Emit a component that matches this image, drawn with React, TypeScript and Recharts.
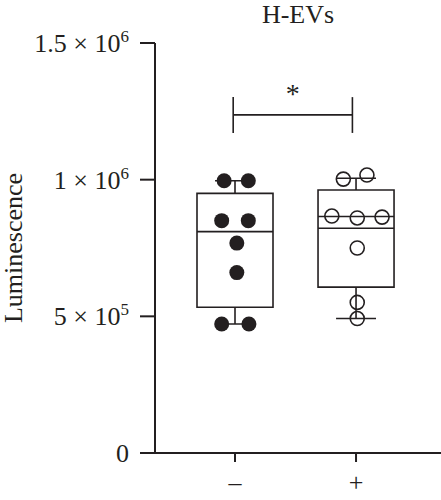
import React from "react";
import { ReferenceArea, ReferenceLine, Scatter, ScatterChart, XAxis, YAxis } from "recharts";

// Groups on the x axis (0 = without, 1 = with H-EVs)
const groupLabels = ["–", "+"];

// Individual points; jitter is the horizontal spread in group units
const negValues = [996000, 996000, 850000, 850000, 768000, 660000, 472000, 472000];
const negJitter = [-0.09, 0.11, -0.11, 0.11, 0.015, 0.015, -0.11, 0.115];
const posValues = [1002000, 1017000, 867000, 860000, 863000, 750000, 551000, 492000];
const posJitter = [-0.105, 0.09, -0.2, 0.01, 0.215, 0.01, 0.01, 0.01];

// Box summaries: [min, q1, median, q3, max]
const negBox = [472000, 533000, 810000, 950000, 996000];
const posBox = [492000, 607000, 822000, 962000, 1005000];
// second horizontal line drawn inside the "+" box
const posExtraLine = 865000;

const yTicks = [0, 500000, 1000000, 1500000];

const INK = "#231f20";
const FONT = "'Liberation Serif', 'Times New Roman', serif";
const BOX_HALF = 0.314;
const CAP_HALF = 0.165;

const negPoints = negValues.map((v, i) => ({ x: 0 + negJitter[i], y: v }));
const posPoints = posValues.map((v, i) => ({ x: 1 + posJitter[i], y: v }));

function YTick({ x, y, payload }: any) {
    const v = payload.value as number;
    if (v === 0) {
        return (
            <text x={x} y={y} dy="0.35em" textAnchor="end" fontFamily={FONT} fontSize={26} fill={INK}>
                0
            </text>
        );
    }
    const exp = Math.floor(Math.log10(v));
    const mant = +(v / Math.pow(10, exp)).toFixed(1);
    return (
        <text x={x} y={y} dy="0.35em" textAnchor="end" fontFamily={FONT} fontSize={26} fill={INK}>
            {`${mant} × 10`}
            <tspan dy={-10} fontSize={17}>
                {exp}
            </tspan>
        </text>
    );
}

function XTick({ x, y, payload }: any) {
    return (
        <text x={x} y={y + 29} textAnchor="middle" fontFamily={FONT} fontSize={26} fill={INK}>
            {groupLabels[payload.value]}
        </text>
    );
}

const filledDot = (p: any) => <circle cx={p.cx} cy={p.cy} r={7.5} fill={INK} />;
const openDot = (p: any) => <circle cx={p.cx} cy={p.cy} r={7} fill="none" stroke={INK} strokeWidth={1.6} />;

function boxMarks(center: number, box: number[], extra?: number) {
    const [min, q1, med, q3, max] = box;
    const line = (x1: number, y1: number, x2: number, y2: number, key: string) => (
        <ReferenceLine
            key={key}
            segment={[
                { x: x1, y: y1 },
                { x: x2, y: y2 },
            ]}
            stroke={INK}
            strokeWidth={1.6}
            ifOverflow="visible"
        />
    );
    const marks = [
        <ReferenceArea
            key={`box${center}`}
            x1={center - BOX_HALF}
            x2={center + BOX_HALF}
            y1={q1}
            y2={q3}
            fill="none"
            stroke={INK}
            strokeWidth={1.6}
            ifOverflow="visible"
        />,
        line(center - BOX_HALF, med, center + BOX_HALF, med, `med${center}`),
        line(center, q3, center, max, `wt${center}`),
        line(center, q1, center, min, `wb${center}`),
        line(center - CAP_HALF, max, center + CAP_HALF, max, `ct${center}`),
        line(center - CAP_HALF, min, center + CAP_HALF, min, `cb${center}`),
    ];
    if (extra !== undefined) marks.push(line(center - BOX_HALF, extra, center + BOX_HALF, extra, `ex${center}`));
    return marks;
}

// significance bracket between the two groups
const bracketX = [-0.015, 0.97];
const bracketY = 1237000;
const bracketTickY = [1171000, 1302000];

export default function App() {
    return (
        <div style={{ position: "absolute", left: 0, top: 0, width: 441, height: 500, background: "#fff" }}>
            <ScatterChart width={441} height={500} margin={{ top: 43, right: 0, bottom: 0, left: 0 }}>
                <XAxis
                    type="number"
                    dataKey="x"
                    domain={[-0.661, 1.702]}
                    ticks={[0, 1]}
                    allowDataOverflow
                    height={47}
                    tickSize={9}
                    tickMargin={0}
                    tick={<XTick />}
                    axisLine={{ stroke: INK, strokeWidth: 2 }}
                    tickLine={{ stroke: INK, strokeWidth: 2 }}
                />
                <YAxis
                    type="number"
                    dataKey="y"
                    domain={[0, 1500000]}
                    ticks={yTicks}
                    width={155}
                    tickSize={15}
                    tickMargin={11}
                    tick={<YTick />}
                    axisLine={{ stroke: INK, strokeWidth: 2 }}
                    tickLine={{ stroke: INK, strokeWidth: 2 }}
                />
                {boxMarks(0, negBox)}
                {boxMarks(1, posBox, posExtraLine)}
                <ReferenceLine
                    segment={[
                        { x: bracketX[0], y: bracketY },
                        { x: bracketX[1], y: bracketY },
                    ]}
                    stroke={INK}
                    strokeWidth={1.6}
                    label={{ value: "*", position: "top", offset: 12, fontFamily: FONT, fontSize: 28, fill: INK }}
                />
                {bracketX.map((bx) => (
                    <ReferenceLine
                        key={`bt${bx}`}
                        segment={[
                            { x: bx, y: bracketTickY[0] },
                            { x: bx, y: bracketTickY[1] },
                        ]}
                        stroke={INK}
                        strokeWidth={1.6}
                    />
                ))}
                <Scatter data={negPoints} shape={filledDot} isAnimationActive={false} />
                <Scatter data={posPoints} shape={openDot} isAnimationActive={false} />
            </ScatterChart>
            <svg
                width={441}
                height={500}
                style={{ position: "absolute", left: 0, top: 0, pointerEvents: "none" }}
            >
                <text x={298} y={23} textAnchor="middle" fontFamily={FONT} fontSize={26} fill={INK}>
                    H-EVs
                </text>
                <text
                    x={22}
                    y={248}
                    textAnchor="middle"
                    transform="rotate(-90, 22, 248)"
                    fontFamily={FONT}
                    fontSize={26}
                    fill={INK}
                >
                    Luminescence
                </text>
            </svg>
        </div>
    );
}
